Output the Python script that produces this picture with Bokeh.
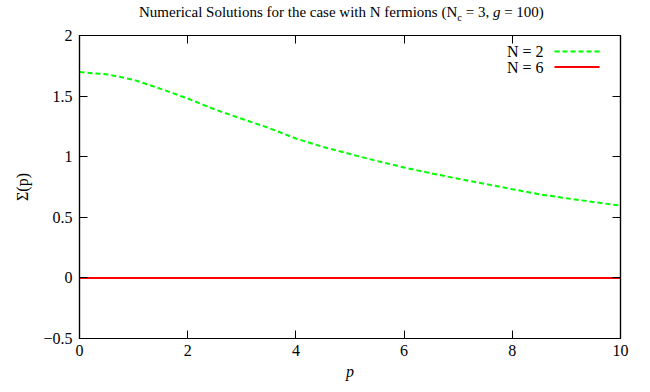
from bokeh.plotting import figure
from bokeh.models import LinearAxis, FixedTicker, Label, Range1d, Div
from bokeh.layouts import column
from bokeh.embed import file_html
from bokeh.resources import INLINE

# ---- data ----
p_values = [0.0, 0.5, 1.0, 1.5, 2.0, 2.5, 3.0, 3.5, 4.0, 4.5, 5.0,
            5.5, 6.0, 6.5, 7.0, 7.5, 8.0, 8.5, 9.0, 9.5, 10.0]
sigma_n2 = [1.698, 1.680, 1.635, 1.560, 1.480, 1.390, 1.313, 1.237, 1.150, 1.081, 1.022,
            0.964, 0.911, 0.863, 0.818, 0.775, 0.732, 0.690, 0.657, 0.626, 0.596]
sigma_n6 = [0.0] * 21

series_labels = ["N = 2", "N = 6"]

x_ticks = [0, 2, 4, 6, 8, 10]
x_tick_labels = ["0", "2", "4", "6", "8", "10"]
y_ticks = [-0.5, 0, 0.5, 1, 1.5, 2]
y_tick_labels = ["\u22120.5", "0", "0.5", "1", "1.5", "2"]

title_html = ("Numerical Solutions for the case with N fermions "
              "(N<sub style='font-size:10.5px'>c</sub> = 3, <i>g</i> = 100)")

# ---- layout / style ----
FONT = "Times"            # single-word name, resolved to Liberation Serif by fontconfig
HTML_FONT = "Liberation Serif"
W = 650
TITLE_H = 25
H = 392 - TITLE_H
BL, BR, BT, BB = 79, 30, 10, 54
FW, FH = W - BL - BR, H - BT - BB
X0, X1, Y0, Y1 = 0, 10, -0.5, 2
px_x = FW / (X1 - X0)
px_y = FH / (Y1 - Y0)

title_div = Div(text=(f"<div style=\"position:absolute; left:139px; top:3px; white-space:nowrap; "
                      f"font-family:'{HTML_FONT}', Times, serif; font-size:15px; color:black; "
                      f"line-height:18px;\">{title_html}</div>"),
                width=W, height=TITLE_H, margin=0)

p = figure(width=W, height=H, x_range=Range1d(X0, X1), y_range=Range1d(Y0, Y1),
           output_backend="svg", toolbar_location=None, title=None,
           min_border_left=BL, min_border_right=BR, min_border_top=BT, min_border_bottom=BB,
           x_axis_label="p", y_axis_label="\u03a3(p)", margin=0)
p.grid.visible = False
p.outline_line_color = "black"
p.outline_line_width = 1.2
p.background_fill_color = "white"
p.border_fill_color = "white"

p.xaxis.ticker = FixedTicker(ticks=x_ticks)
p.yaxis.ticker = FixedTicker(ticks=y_ticks)
p.xaxis.major_label_overrides = {t: l for t, l in zip(x_ticks, x_tick_labels)}
p.yaxis.major_label_overrides = {t: l for t, l in zip(y_ticks, y_tick_labels)}

for ax in p.axis:
    ax.axis_line_color = "black"
    ax.axis_line_width = 1.2
    ax.major_tick_in = 8
    ax.major_tick_out = 0
    ax.major_tick_line_color = "black"
    ax.minor_tick_in = 0
    ax.minor_tick_out = 0
    ax.major_label_text_font = FONT
    ax.major_label_text_font_size = "16px"
    ax.major_label_text_color = "black"
    ax.axis_label_text_font = FONT
    ax.axis_label_text_font_size = "16px"
    ax.axis_label_text_color = "black"

p.xaxis.major_label_standoff = 6
p.xaxis.axis_label_standoff = 4
p.xaxis.axis_label_text_font_style = "italic"
p.yaxis.major_label_standoff = 7
p.yaxis.axis_label_standoff = 9
p.yaxis.axis_label_text_font_style = "normal"

# mirror ticks on top and right
right = LinearAxis(ticker=FixedTicker(ticks=y_ticks),
                   major_label_overrides={t: "" for t in y_ticks})
top = LinearAxis(ticker=FixedTicker(ticks=x_ticks),
                 major_label_overrides={t: "" for t in x_ticks})
for ax in (top, right):
    ax.axis_line_color = "black"
    ax.axis_line_width = 1.2
    ax.major_tick_in = 8
    ax.major_tick_out = 0
    ax.major_tick_line_color = "black"
    ax.minor_tick_in = 0
    ax.minor_tick_out = 0
    ax.major_label_standoff = 0
    ax.major_label_text_font_size = "1px"
p.add_layout(top, "above")
p.add_layout(right, "right")

# ---- data lines ----
GREEN = "#00ff00"
RED = "#ff0000"
p.line(p_values, sigma_n2, line_color=GREEN, line_width=2, line_dash="5 3")
p.line(p_values, sigma_n6, line_color=RED, line_width=2)

# ---- gnuplot-style key (text left, sample right) ----
key_rows = [16, 31.5]
for lab, dy, col, dash in zip(series_labels, key_rows, [GREEN, RED], ["5 3", "solid"]):
    p.add_layout(Label(x=X1, y=Y1, x_offset=-77, y_offset=-dy, text=lab,
                       text_font=FONT, text_font_size="16px", text_color="black",
                       text_align="right", text_baseline="middle"))
    yk = Y1 - dy / px_y
    p.line([X1 - 66 / px_x, X1 - 21 / px_x], [yk, yk], line_color=col, line_width=2, line_dash=dash)

layout = column(title_div, p, spacing=0, margin=0)
open("out.html", "w").write(file_html(layout, INLINE))
